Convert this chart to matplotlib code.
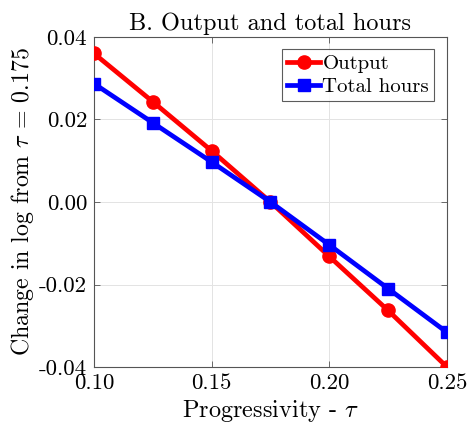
import matplotlib
matplotlib.use("Agg")
import matplotlib.pyplot as plt

tau = [0.10, 0.125, 0.15, 0.175, 0.20, 0.225, 0.25]
output = [0.0360, 0.0243, 0.0124, 0.0, -0.0132, -0.0263, -0.0400]
hours = [0.0287, 0.0192, 0.0097, 0.0, -0.0104, -0.0210, -0.0316]
xticks = [0.10, 0.15, 0.20, 0.25]
xticklabels = ["0.10", "0.15", "0.20", "0.25"]
yticks = [-0.04, -0.02, 0.00, 0.02, 0.04]
yticklabels = ["-0.04", "-0.02", "0.00", "0.02", "0.04"]

plt.rcParams["font.family"] = ["cmr10", "DejaVu Serif"]
plt.rcParams["mathtext.fontset"] = "cm"
plt.rcParams["axes.unicode_minus"] = False
plt.rcParams["axes.formatter.use_mathtext"] = True

fig = plt.figure(figsize=(4.69, 4.29), dpi=100)
ax = fig.add_axes([0.2004, 0.1445, 0.7526, 0.7693])

ax.plot(tau, output, color="#ff0000", lw=3.4, marker="o", ms=9.5, label="Output", zorder=3)
ax.plot(tau, hours, color="#0000ff", lw=3.4, marker="s", ms=8.5, label="Total hours", zorder=3)

ax.set_xlim(0.10, 0.25)
ax.set_ylim(-0.04, 0.04)
ax.set_xticks(xticks)
ax.set_xticklabels(xticklabels)
ax.set_yticks(yticks)
ax.set_yticklabels(yticklabels)
ax.tick_params(direction="in", top=True, right=True, labelsize=16.5, length=4,
               color="#555555", width=0.6, pad=5)
ax.grid(True, color="#e3e3e3", lw=0.7, zorder=0)
for s in ax.spines.values():
    s.set_color("#555555")
    s.set_linewidth(0.8)

ax.set_title("B. Output and total hours", fontsize=17.5, pad=5)
ax.set_xlabel(r"Progressivity - $\tau$", fontsize=17.5, labelpad=3)
ax.set_ylabel(r"Change in log from $\tau$ = 0.175", fontsize=17.2, labelpad=2)

leg = ax.legend(loc="upper right", fontsize=15, frameon=True, fancybox=False,
                edgecolor="#333333", handlelength=1.6, handletextpad=0.1,
                borderpad=0.25, labelspacing=0.2, borderaxespad=0.6)
leg.get_frame().set_linewidth(0.8)

fig.savefig("out.png", dpi=100)
